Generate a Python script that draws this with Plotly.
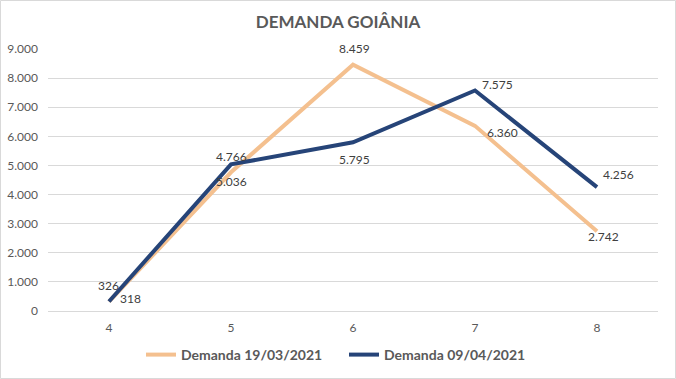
import plotly.graph_objects as go

categories = [4, 5, 6, 7, 8]
series1_name = "Demanda 19/03/2021"
series1 = [318, 4766, 8459, 6360, 2742]
series2_name = "Demanda 09/04/2021"
series2 = [326, 5036, 5795, 7575, 4256]
title = "DEMANDA GOIÂNIA"
y_ticks = [0, 1000, 2000, 3000, 4000, 5000, 6000, 7000, 8000, 9000]

c1 = "#F4C08F"
c2 = "#264478"
txt = "#404040"
FONT = "Lato, Open Sans, sans-serif"

# label offsets (pixels) per point: (xshift, yshift)
off1 = [(21, 3), (0, 16), (1, 16), (27, -7), (6, -5)]
off2 = [(-1, 16), (0, -17), (1, -17), (22, 6), (21, 13)]

fig = go.Figure()
fig.add_trace(go.Scatter(x=categories, y=series1, name=series1_name, mode="lines",
                         line=dict(color=c1, width=4)))
fig.add_trace(go.Scatter(x=categories, y=series2, name=series2_name, mode="lines",
                         line=dict(color=c2, width=4)))

def fmt(v):
    return f"{v:,}".replace(",", ".")

annots = []
for vals, offs in ((series1, off1), (series2, off2)):
    for c, v, (dx, dy) in zip(categories, vals, offs):
        annots.append(dict(x=c, y=v, text=fmt(v), showarrow=False, xshift=dx, yshift=dy,
                           font=dict(family=FONT, size=12, color=txt)))

fig.update_layout(
    width=676, height=379,
    margin=dict(l=48, r=18, t=49, b=68),
    paper_bgcolor="white", plot_bgcolor="white",
    separators=",.",
    title=dict(text="<b>" + title + "</b>", x=0.5, xanchor="center", y=1 - 22 / 379, yanchor="middle",
               font=dict(family=FONT, size=17, color="#595959")),
    xaxis=dict(range=[3.5, 8.5], tickvals=categories, ticktext=[str(c) for c in categories],
               showgrid=False, showline=True, zeroline=False, automargin=False,
               linecolor="#D9D9D9", linewidth=1, ticks="", ticklabelstandoff=6,
               tickfont=dict(family=FONT, size=12, color="#595959")),
    yaxis=dict(range=[0, 9000], tickvals=y_ticks, tickformat=",d", showgrid=True,
               gridcolor="#D9D9D9", gridwidth=1, zeroline=False, showline=False, ticks="",
               automargin=False, ticklabelstandoff=9,
               tickfont=dict(family=FONT, size=12, color="#595959")),
    legend=dict(orientation="h", x=0.5 + 6 / 676, xanchor="center", xref="container",
                y=1 - 355 / 379, yanchor="middle", yref="container",
                font=dict(family=FONT, size=14, color="#595959", weight="bold"),
                itemwidth=30, traceorder="normal", entrywidth=158, entrywidthmode="pixels"),
    annotations=annots,
    shapes=[dict(type="rect", xref="paper", yref="paper",
                 x0=(0.5 - 48) / 610, x1=(675.5 - 48) / 610,
                 y0=(311 - 378.5) / 262, y1=(311 - 0.5) / 262,
                 line=dict(color="#D9D9D9", width=1), layer="below")],
)

fig.write_html("out.html", post_script="document.body.style.margin='0';",
               config={"displayModeBar": False})
